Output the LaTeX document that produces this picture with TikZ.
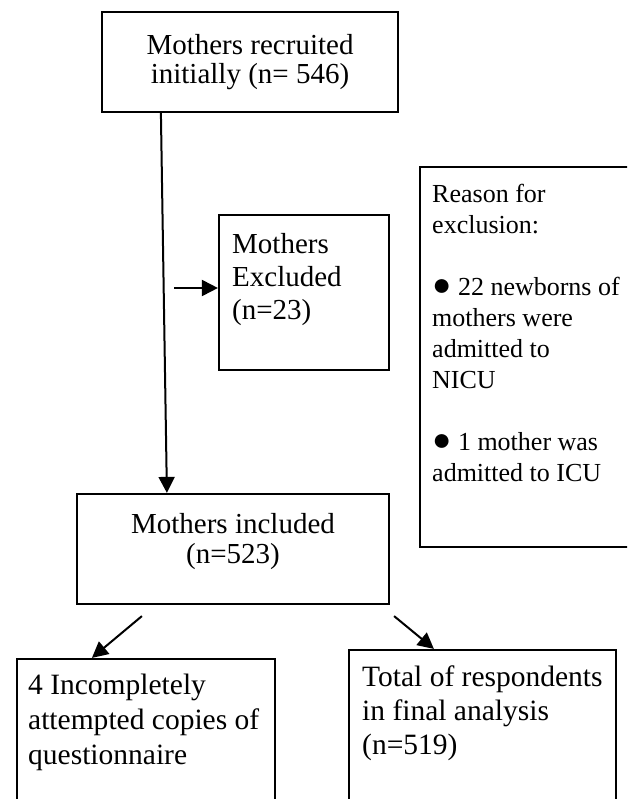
\documentclass[tikz,border=0pt]{standalone}
\usepackage{fontspec}
\setmainfont{Liberation Serif}
\usetikzlibrary{arrows.meta}
\newcommand{\bul}{{\fontsize{32}{32}\selectfont ●}}
\begin{document}
\begin{tikzpicture}[x=1pt,y=-1pt,
	box/.style={draw,line width=2.2pt,inner sep=0pt},
	txt/.style={inner sep=0pt,font=\fontsize{29}{29.5}\selectfont},
	arr/.style={line width=2pt,-{Triangle[length=16pt,width=16pt]}}]
		\useasboundingbox (0,0) rectangle (627,799);
		\clip (0,0) rectangle (627,799);
		% cac hop
		\node[box,txt,align=center,minimum width=296pt,minimum height=100pt] (recruit) at (250,62) {Mothers recruited\\initially (n= 546)};
		\node[box,minimum width=170pt,minimum height=155pt] (excl) at (304,292.5) {};
		\node[box,minimum width=240pt,minimum height=380pt] (reason) at (540,357) {};
		\node[box,minimum width=312pt,minimum height=110pt] (incl) at (233,549) {};
		\node[box,minimum width=258pt,minimum height=170pt] (incomp) at (146,744) {};
		\node[box,minimum width=267pt,minimum height=170pt] (total) at (482.5,735) {};
		% chu trong hop
		\node[txt,anchor=north west,align=left,font=\fontsize{29}{33}\selectfont] (excl-t) at (232,233) {Mothers\\Excluded\\(n=23)};
		\node[txt,anchor=north west,align=left,font=\fontsize{26}{31}\selectfont] (reason-t) at (432,184) {Reason for\\exclusion:\\[31pt]\bul{} 22 newborns of\\mothers were\\admitted to\\NICU\\[31pt]\bul{} 1 mother was\\admitted to ICU};
		\node[txt,anchor=north,align=center,font=\fontsize{29}{30}\selectfont] (incl-t) at (233,513) {Mothers included\\(n=523)};
		\node[txt,anchor=north west,align=left,font=\fontsize{29.5}{35}\selectfont] (incomp-t) at (28,674) {4 Incompletely\\attempted copies of\\questionnaire};
		\node[txt,anchor=north west,align=left,font=\fontsize{29.5}{34}\selectfont] (total-t) at (362,666) {Total of respondents\\in final analysis\\(n=519)};
		% mui ten
		\coordinate (excl-in) at (174,288);
		\draw[arr] ([xshift=60pt]recruit.south west) -- ([xshift=91pt]incl.north west);
		\draw[arr] (excl-in) -- (excl-in -| excl.west);
		\draw[arr] ([shift={(66,11)}]incl.south west) -- ([xshift=76pt]incomp.north west);
		\draw[arr] ([shift={(4,11)}]incl.south east) -- ([xshift=86pt]total.north west);
\end{tikzpicture}
\end{document}
